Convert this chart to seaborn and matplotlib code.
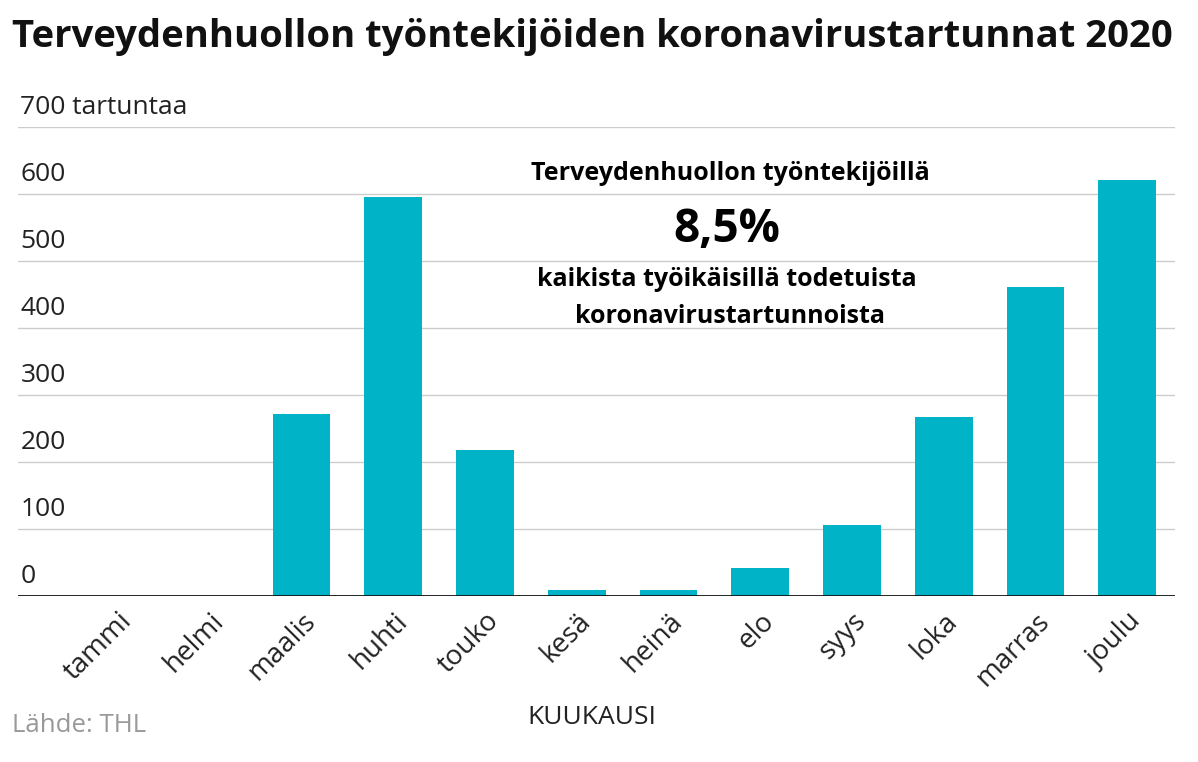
import matplotlib
matplotlib.use("Agg")
import matplotlib.pyplot as plt
import seaborn as sns
import pandas as pd

months = ["tammi","helmi","maalis","huhti","touko","kesä","heinä","elo","syys","loka","marras","joulu"]
values = [0, 0, 272, 595, 218, 9, 9, 42, 106, 267, 461, 621]
yticks = [0, 100, 200, 300, 400, 500, 600, 700]
ytick_labels = ["0","100","200","300","400","500","600","700 tartuntaa"]

plt.rcParams["font.family"] = "Open Sans"
df = pd.DataFrame({"kk": months, "n": values})
fig = plt.figure(figsize=(11.98, 7.62), dpi=100)
ax = fig.add_axes([18/1198, 1-596/762, (1175-18)/1198, (596-127)/762])
sns.barplot(data=df, x="kk", y="n", color="#00b3c7", width=0.63, saturation=1, ax=ax, zorder=3)
ax.set_xlim(-1.09, 11.52)
ax.set_ylim(0, 700)
for t, l in zip(yticks, ytick_labels):
    if t > 0:
        ax.axhline(t, color="#cccccc", lw=1, zorder=1)
    ax.text(0.002, t + 10, l, transform=ax.get_yaxis_transform(), fontsize=19, color="#222", va="bottom", ha="left")
ax.axhline(0, color="#111", lw=2, zorder=4)
ax.set_yticks([])
for s in ax.spines.values():
    s.set_visible(False)
ax.tick_params(axis="x", length=0, pad=8)
ax.set_xticks(range(12))
ax.set_xticklabels(months, rotation=45, ha="right", rotation_mode="anchor", fontsize=20, color="#222")
ax.set_xlabel("")
ax.set_ylabel("")
fig.text(592/1198, 1-718/762, "KUUKAUSI", ha="center", va="center", fontsize=19, color="#222")
fig.text(12/1198, 1-726/762, "Lähde: THL", ha="left", va="center", fontsize=18.5, color="#999")
fig.text(12/1198, 1-37/762, "Terveydenhuollon työntekijöiden koronavirustartunnat 2020", ha="left", va="center", fontsize=27.5, fontweight="bold", color="#111")
fig.text(730/1198, 1-174/762, "Terveydenhuollon työntekijöillä", ha="center", va="center", fontsize=18, fontweight="bold")
fig.text(727/1198, 1-229/762, "8,5%", ha="center", va="center", fontsize=33, fontweight="bold")
fig.text(727/1198, 1-279/762, "kaikista työikäisillä todetuista", ha="center", va="center", fontsize=18, fontweight="bold")
fig.text(730/1198, 1-316/762, "koronavirustartunnoista", ha="center", va="center", fontsize=18, fontweight="bold")
fig.savefig("out.png", dpi=100)
